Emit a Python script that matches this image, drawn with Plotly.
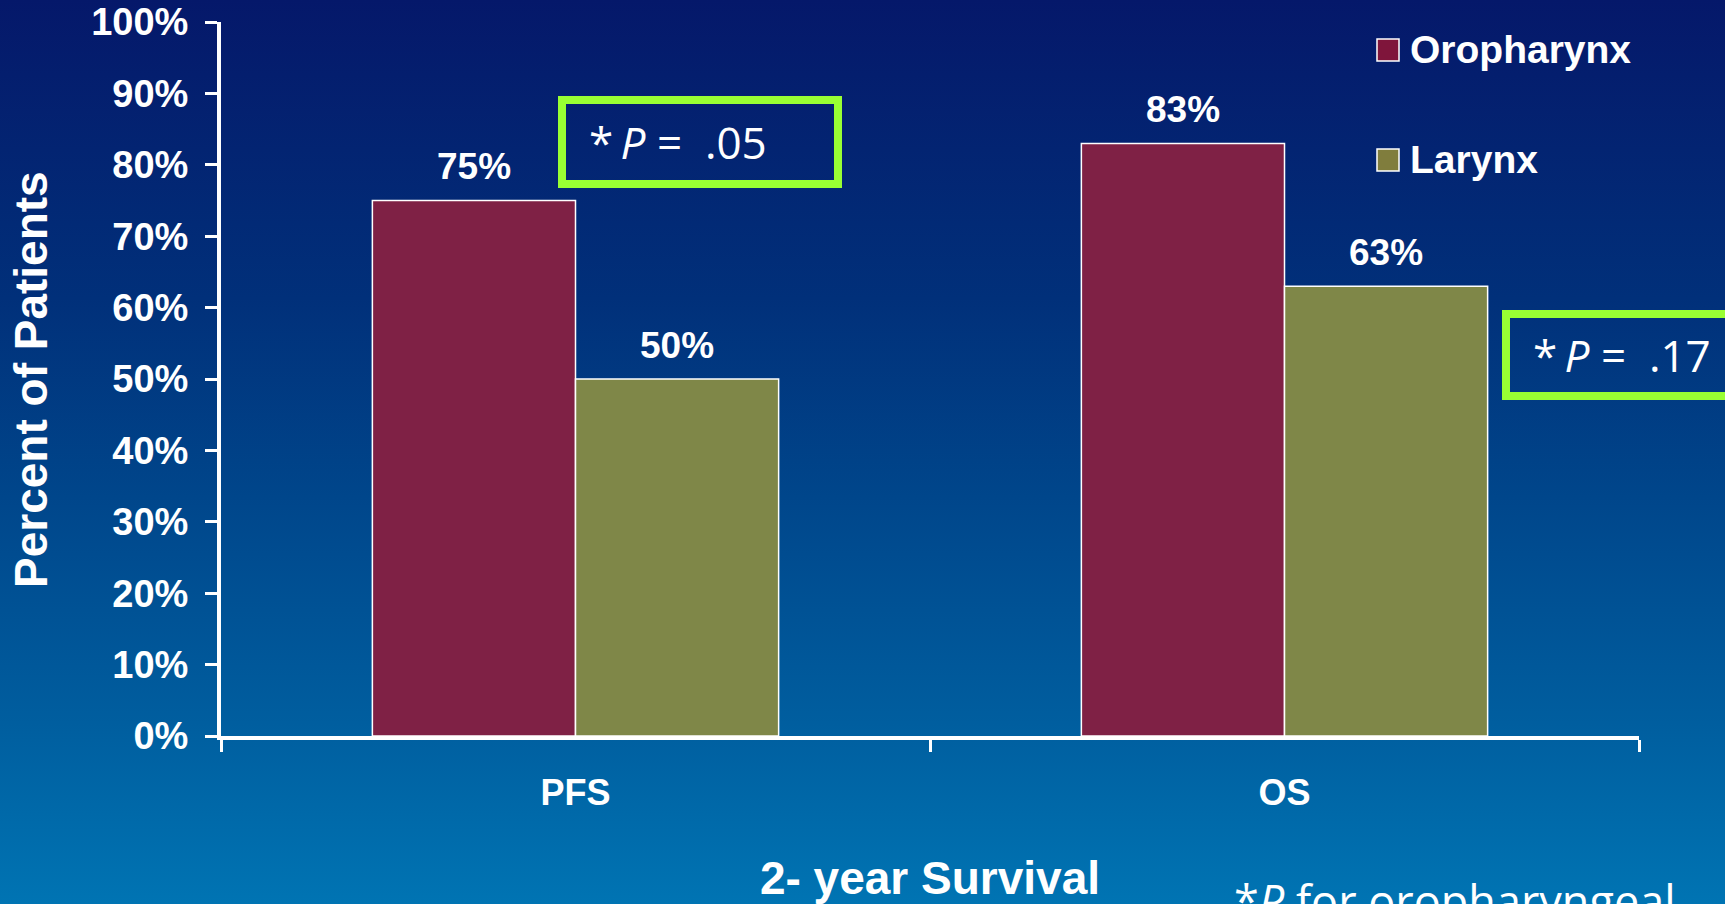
import base64
import plotly.graph_objects as go

# ---- data ----
categories = ["PFS", "OS"]
series_names = ["Oropharynx", "Larynx"]
oropharynx = [75, 83]
larynx = [50, 63]
p_values = [".05", ".17"]
y_ticks = list(range(0, 101, 10))
y_tick_labels = [f"{v}%" for v in y_ticks]

# ---- canvas / plot-area geometry (pixels) ----
W, H = 1725, 904
L, R, T, B = 221, 86, 22, 168
PW, PH = W - L - R, H - T - B
BARGAP = 0.427

WHITE = "#ffffff"
BOLD = "Liberation Sans, Arial, sans-serif"
LIGHT = "Open Sans, Noto Sans, sans-serif"
COLORS = ["#7f2145", "#7f8748"]
SWATCH = ["#7f153b", "#807d3d"]
GREEN = "#99ff33"


def px_x(px):
    return (px - L) / PW


def px_y(py):
    return (T + PH - py) / PH


# vertical blue background gradient as an inline SVG
svg = (
    f'<svg xmlns="http://www.w3.org/2000/svg" width="{W}" height="{H}" '
    f'viewBox="0 0 {W} {H}" preserveAspectRatio="none">'
    '<defs><linearGradient id="g" x1="0" y1="0" x2="0" y2="1">'
    '<stop offset="0" stop-color="#05186a"/>'
    '<stop offset="0.33" stop-color="#01307a"/>'
    '<stop offset="0.55" stop-color="#00468b"/>'
    '<stop offset="0.8" stop-color="#005e9f"/>'
    '<stop offset="1" stop-color="#0074b3"/>'
    '</linearGradient></defs>'
    f'<rect x="0" y="0" width="{W}" height="{H}" fill="url(#g)"/></svg>'
)
bg_src = "data:image/svg+xml;base64," + base64.b64encode(svg.encode()).decode()

fig = go.Figure()
for name, vals, col in zip(series_names, [oropharynx, larynx], COLORS):
    fig.add_trace(go.Bar(
        x=categories, y=vals, name=name,
        marker=dict(color=col, line=dict(color=WHITE, width=1.5)),
        showlegend=False, hoverinfo="skip",
    ))

annotations = []
# value labels above each bar
bar_w = (1 - BARGAP) / 2
for s, vals in enumerate([oropharynx, larynx]):
    for i, v in enumerate(vals):
        annotations.append(dict(
            x=i + (s - 0.5) * bar_w, y=v, xref="x", yref="y",
            text=f"{v}%", showarrow=False, yanchor="middle", yshift=34,
            font=dict(family=BOLD, size=37, color=WHITE, weight="bold"),
        ))

# y-axis title, set in the left margin
annotations.append(dict(
    x=px_x(31), y=0.5, xref="paper", yref="paper",
    xanchor="center", yanchor="middle", showarrow=False, textangle=-90,
    text="Percent of Patients",
    font=dict(family=BOLD, size=46, color=WHITE, weight="bold"),
))

# legend: swatches and names
legend_rows = [50, 160]
shapes = []
for name, sw, cy in zip(series_names, SWATCH, legend_rows):
    shapes.append(dict(
        type="rect", xref="paper", yref="paper",
        x0=px_x(1377), x1=px_x(1399), y0=px_y(cy + 11), y1=px_y(cy - 11),
        fillcolor=sw, line=dict(color=WHITE, width=1.5),
    ))
    annotations.append(dict(
        x=px_x(1408), y=px_y(cy), xref="paper", yref="paper",
        xanchor="left", yanchor="middle", showarrow=False, text=name,
        font=dict(family=BOLD, size=39, color=WHITE, weight="bold"),
    ))

# P-value boxes
boxes = [(562, 838, 100, 184, 587), (1506, 1760, 314, 396, 1531)]
for (x0, x1, y0, y1, tx), p in zip(boxes, p_values):
    shapes.append(dict(
        type="rect", xref="paper", yref="paper",
        x0=px_x(x0), x1=px_x(x1), y0=px_y(y1), y1=px_y(y0),
        line=dict(color=GREEN, width=8), fillcolor="rgba(0,0,0,0)",
    ))
    annotations.append(dict(
        x=px_x(tx), y=px_y((y0 + y1) / 2), xref="paper", yref="paper",
        xanchor="left", yanchor="middle", showarrow=False,
        text=f"*\u2009<i>P</i> =\u00a0\u00a0{p}",
        font=dict(family=LIGHT, size=44, color=WHITE),
    ))

# footnote (runs off the bottom edge of the slide)
annotations.append(dict(
    x=px_x(1232), y=px_y(868), xref="paper", yref="paper",
    xanchor="left", yanchor="top", showarrow=False,
    text="*<i>P</i> for oropharyngeal",
    font=dict(family=LIGHT, size=45, color=WHITE),
))

fig.update_layout(
    width=W, height=H,
    margin=dict(l=L, r=R, t=T, b=B, autoexpand=False),
    paper_bgcolor="#01357e", plot_bgcolor="rgba(0,0,0,0)",
    barmode="group", bargap=BARGAP, bargroupgap=0,
    showlegend=False,
    images=[dict(
        source=bg_src, xref="paper", yref="paper",
        x=px_x(0), y=px_y(0), sizex=W / PW, sizey=H / PH,
        xanchor="left", yanchor="top", sizing="stretch", layer="below",
    )],
    shapes=shapes,
    annotations=annotations,
    xaxis=dict(
        type="category", tickson="boundaries",
        showline=True, linecolor=WHITE, linewidth=4,
        ticks="outside", ticklen=12, tickwidth=3, tickcolor=WHITE,
        ticklabelstandoff=22,
        tickfont=dict(family=BOLD, size=36, color=WHITE, weight="bold"),
        showgrid=False, zeroline=False, automargin=False,
        title=dict(text="2- year Survival", standoff=54,
                   font=dict(family=BOLD, size=46, color=WHITE, weight="bold")),
    ),
    yaxis=dict(
        range=[0, 100], tickmode="array", tickvals=y_ticks, ticktext=y_tick_labels,
        showline=True, linecolor=WHITE, linewidth=4,
        ticks="outside", ticklen=12, tickwidth=3, tickcolor=WHITE,
        ticklabelstandoff=9,
        tickfont=dict(family=BOLD, size=38, color=WHITE, weight="bold"),
        showgrid=False, zeroline=False, automargin=False,
    ),
)

fig.write_html("out.html")
